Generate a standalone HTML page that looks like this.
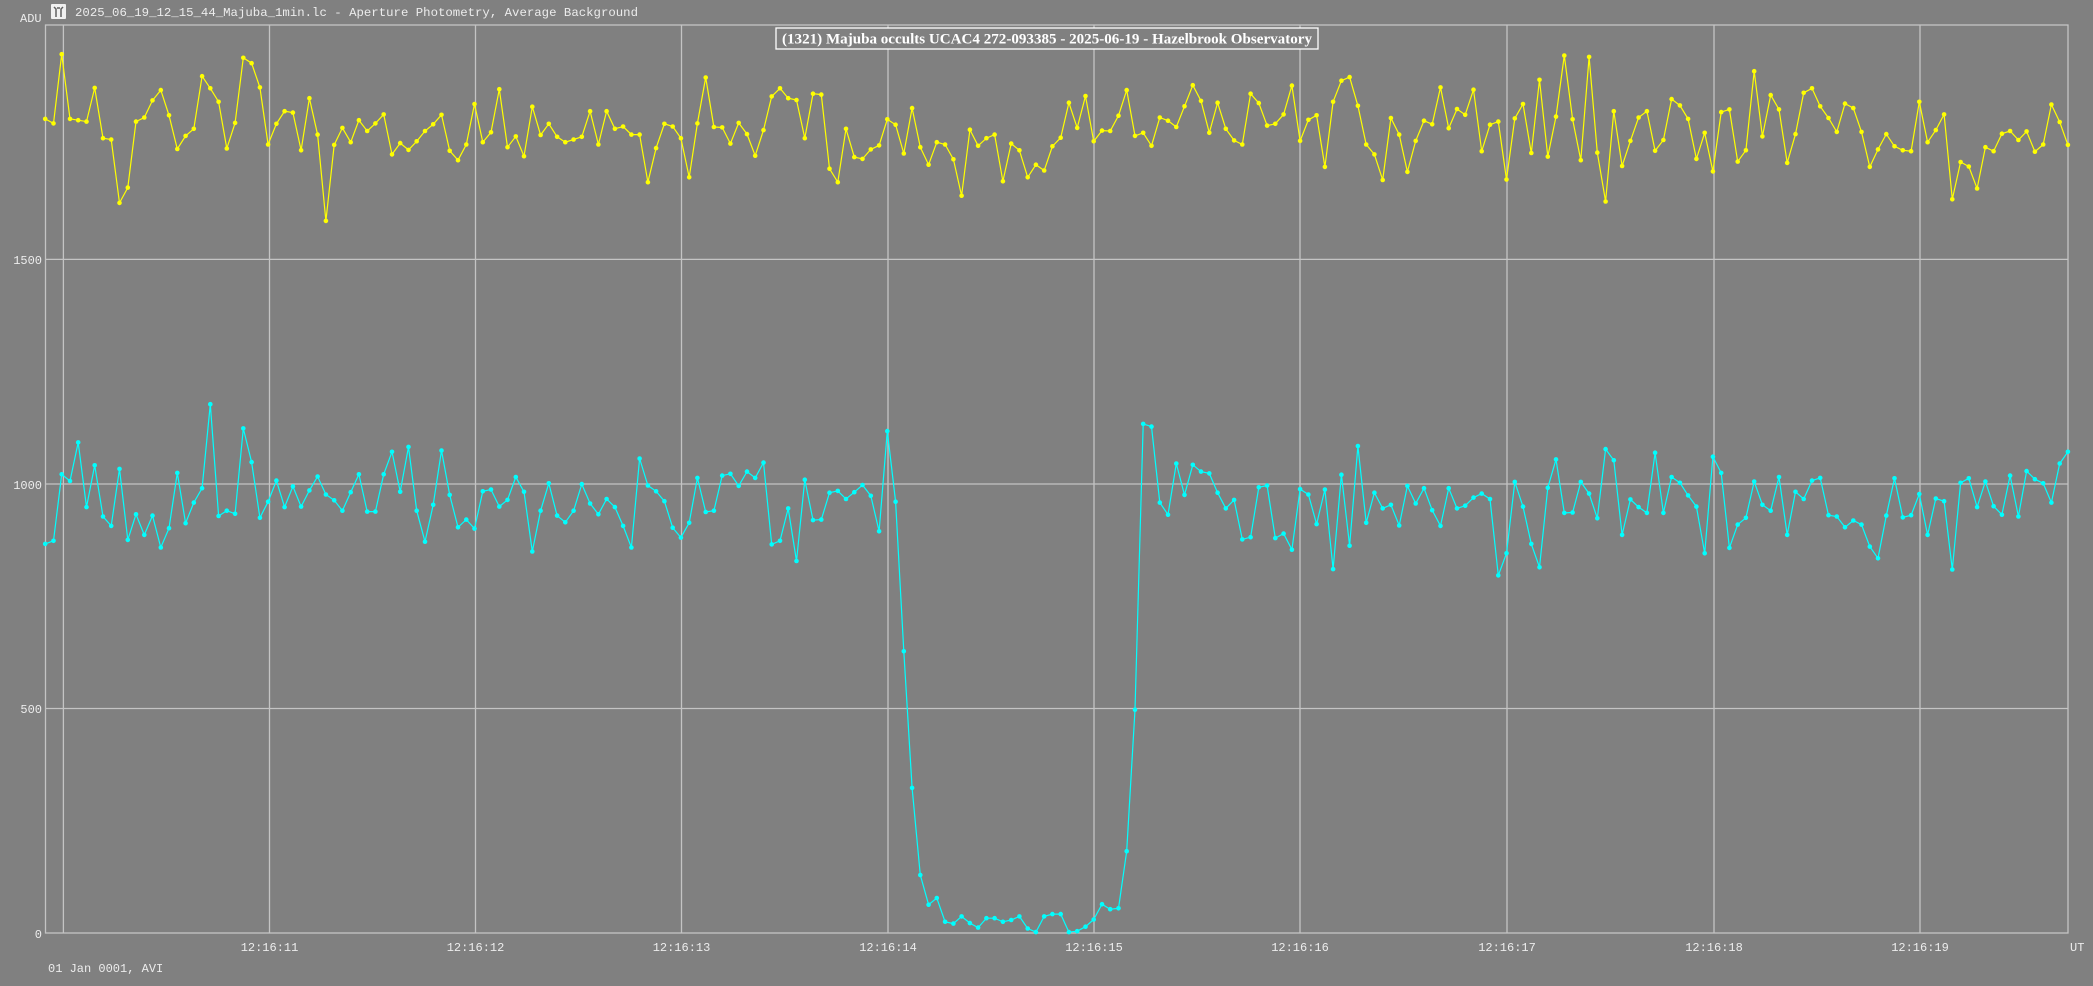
<!DOCTYPE html>
<html><head><meta charset="utf-8"><style>
html,body{margin:0;padding:0;background:#808080;}
svg{display:block;}
text{font-family:"Liberation Mono",monospace;fill:#ececec;}
</style></head><body>
<svg id="s" width="2093" height="986" xmlns="http://www.w3.org/2000/svg">
<rect width="2093" height="986" fill="#808080"/>
<g stroke="#c4c4c4" stroke-width="1.3" fill="none">
<line x1="45" y1="259.4" x2="2068" y2="259.4"/>
<line x1="45" y1="484" x2="2068" y2="484"/>
<line x1="45" y1="708.5" x2="2068" y2="708.5"/>
<line x1="63.4" y1="25" x2="63.4" y2="933"/>
<line x1="269.5" y1="25" x2="269.5" y2="933"/>
<line x1="475.5" y1="25" x2="475.5" y2="933"/>
<line x1="681.5" y1="25" x2="681.5" y2="933"/>
<line x1="888" y1="25" x2="888" y2="933"/>
<line x1="1094" y1="25" x2="1094" y2="933"/>
<line x1="1300" y1="25" x2="1300" y2="933"/>
<line x1="1507" y1="25" x2="1507" y2="933"/>
<line x1="1714" y1="25" x2="1714" y2="933"/>
<line x1="1920" y1="25" x2="1920" y2="933"/>
<rect x="45.5" y="25" width="2022.5" height="908"/>
</g>
<g id="data"></g>
<rect x="776" y="28" width="542" height="21" fill="#808080" stroke="#ffffff" stroke-width="1.3"/>
<text x="1047" y="43.5" text-anchor="middle" textLength="530" lengthAdjust="spacingAndGlyphs" style="font-family:'Liberation Serif',serif;font-weight:bold;font-size:14.5px;fill:#ffffff">(1321) Majuba occults UCAC4 272-093385 - 2025-06-19 - Hazelbrook Observatory</text>
<rect x="51" y="4" width="15" height="15" fill="#f0f0f0" rx="1"/>
<path d="M54 7 L56 9 L56 17 M63 7 L61 9 L61 17 M57 8 L60 8" stroke="#606060" stroke-width="1.5" fill="none"/>
<text x="75" y="16" font-size="12.3" textLength="563" lengthAdjust="spacingAndGlyphs">2025_06_19_12_15_44_Majuba_1min.lc - Aperture Photometry, Average Background</text>
<text x="20" y="22" font-size="12">ADU</text>
<text x="42" y="264" font-size="12" text-anchor="end">1500</text>
<text x="42" y="489" font-size="12" text-anchor="end">1000</text>
<text x="42" y="713" font-size="12" text-anchor="end">500</text>
<text x="42" y="938" font-size="12" text-anchor="end">0</text>
<g font-size="12" text-anchor="middle">
<text x="269.5" y="951">12:16:11</text>
<text x="475.5" y="951">12:16:12</text>
<text x="681.5" y="951">12:16:13</text>
<text x="888" y="951">12:16:14</text>
<text x="1094" y="951">12:16:15</text>
<text x="1300" y="951">12:16:16</text>
<text x="1507" y="951">12:16:17</text>
<text x="1714" y="951">12:16:18</text>
<text x="1920" y="951">12:16:19</text>
</g>
<text x="2070" y="951" font-size="12">UT</text>
<text x="48" y="972" font-size="12">01 Jan 0001, AVI</text>
</svg>
<script>
var Y=[1812,1802,1956,1812,1809,1806,1881,1769,1766,1625,1659,1806,1815,1853,1876,1820,1745,1774,1790,1907,1880,1850,1746,1803,1948,1936,1882,1755,1801,1829,1826,1742,1858,1777,1585,1754,1792,1760,1809,1785,1802,1822,1733,1758,1743,1762,1785,1800,1821,1741,1720,1755,1845,1760,1782,1878,1749,1773,1729,1839,1776,1801,1772,1760,1766,1772,1829,1755,1829,1790,1795,1777,1777,1671,1747,1801,1795,1769,1682,1802,
1904,1794,1793,1757,1803,1778,1730,1787,1862,1880,1858,1854,1769,1868,1866,1701,1671,1790,1727,1723,1744,1753,1811,1799,1735,1836,1749,1710,1760,1755,1722,1641,1788,1752,1769,1777,1673,1757,1742,1682,1710,1697,1751,1770,1848,1792,1863,1762,1786,1785,1819,1876,1774,1781,1752,1815,1808,1794,1840,1887,1852,1781,
1848,1790,1764,1755,1868,1847,1797,1801,1822,1886,1763,1810,1820,1705,1850,1897,1905,1841,1755,1733,1676,1814,1777,1694,1763,1808,1800,1882,1791,1834,1821,1877,1740,1799,1806,1677,1813,1845,1736,1899,1728,1817,1953,1811,1720,1950,1737,1628,1829,1707,1763,1815,1829,1741,1765,1856,1842,1812,1723,1781,1695,
1827,1833,1717,1742,1918,1773,1865,1833,1714,1778,1870,1880,1840,1814,1783,1846,1836,1783,1705,1744,1778,1751,1742,1740,1850,1760,1787,1822,1633,1716,1706,1657,1749,1740,1779,1785,1765,1784,1739,1755,1844,1805,1754];
var C=[866,873,1021,1006,1092,948,1041,927,906,1033,875,932,886,929,858,901,1024,912,958,990,1177,928,940,933,1123,1048,924,960,1007,948,994,949,985,1016,976,963,940,981,1021,938,938,1021,1071,982,1082,940,871,953,1074,975,903,920,900,983,987,949,964,1015,982,849,940,1001,929,914,940,999,956,932,966,948,906,858,1056,996,983,961,902,880,913,1013,
937,940,1018,1022,995,1027,1013,1047,865,873,945,828,1009,919,920,980,984,966,981,997,973,894,1117,
960,627,323,129,63,78,25,21,37,22,12,33,33,25,29,37,10,2,37,42,42,2,4,14,30,64,53,55,182,497,1133,1127,958,
931,1045,975,1042,
1027,1023,980,945,964,876,881,992,996,879,889,853,988,976,910,987,810,1020,862,1084,913,980,945,953,907,995,956,990,941,906,990,945,951,969,978,966,796,845,1004,949,866,814,991,1054,935,936,1004,978,923,1077,1052,886,965,948,935,1069,935,1015,1002,974,949,845,1060,
1024,857,909,924,1005,953,940,1015,886,982,966,1007,1013,930,927,903,918,909,860,834,929,1012,925,930,977,886,967,961,809,1002,1012,948,1005,950,931,1018,927,1028,1010,1001,958,1045,1071];
function draw(a,col){var p=[],c='';for(var i=0;i<a.length;i++){var x=(45.2+i*8.256).toFixed(1),y=(933-a[i]*0.4493).toFixed(1);p.push(x+','+y);c+='<circle cx="'+x+'" cy="'+y+'" r="2.3"/>';}
return '<polyline points="'+p.join(' ')+'" fill="none" stroke="'+col+'" stroke-width="1.2"/><g fill="'+col+'">'+c+'</g>';}
document.getElementById('data').innerHTML=draw(Y,'#ffff00')+draw(C,'#00ffff');
</script>
</body></html>
